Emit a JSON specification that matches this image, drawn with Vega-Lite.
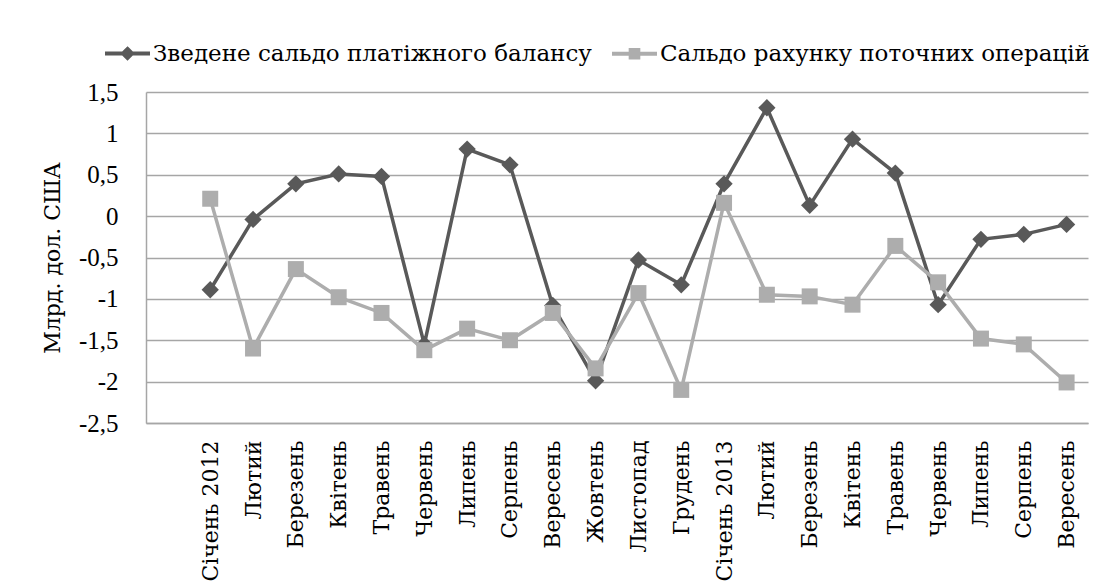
{
  "$schema": "https://vega.github.io/schema/vega-lite/v6.json",
  "width": 942,
  "height": 331,
  "autosize": "none",
  "padding": {"left": 146, "top": 92, "right": 11, "bottom": 165},
  "background": "white",
  "config": {
    "view": {"stroke": null},
    "axis": {"labelColor": "#000000", "titleColor": "#000000"}
  },
  "data": {
    "values": [
      {"period": "Січень 2012", "series": "Зведене сальдо платіжного балансу", "value": -0.89},
      {"period": "Лютий|2012", "series": "Зведене сальдо платіжного балансу", "value": -0.04},
      {"period": "Березень|2012", "series": "Зведене сальдо платіжного балансу", "value": 0.39},
      {"period": "Квітень|2012", "series": "Зведене сальдо платіжного балансу", "value": 0.51},
      {"period": "Травень|2012", "series": "Зведене сальдо платіжного балансу", "value": 0.48},
      {"period": "Червень|2012", "series": "Зведене сальдо платіжного балансу", "value": -1.55},
      {"period": "Липень|2012", "series": "Зведене сальдо платіжного балансу", "value": 0.81},
      {"period": "Серпень|2012", "series": "Зведене сальдо платіжного балансу", "value": 0.62},
      {"period": "Вересень|2012", "series": "Зведене сальдо платіжного балансу", "value": -1.08},
      {"period": "Жовтень|2012", "series": "Зведене сальдо платіжного балансу", "value": -1.99},
      {"period": "Листопад|2012", "series": "Зведене сальдо платіжного балансу", "value": -0.53},
      {"period": "Грудень|2012", "series": "Зведене сальдо платіжного балансу", "value": -0.83},
      {"period": "Січень 2013", "series": "Зведене сальдо платіжного балансу", "value": 0.39},
      {"period": "Лютий|2013", "series": "Зведене сальдо платіжного балансу", "value": 1.31},
      {"period": "Березень|2013", "series": "Зведене сальдо платіжного балансу", "value": 0.13},
      {"period": "Квітень|2013", "series": "Зведене сальдо платіжного балансу", "value": 0.93},
      {"period": "Травень|2013", "series": "Зведене сальдо платіжного балансу", "value": 0.52},
      {"period": "Червень|2013", "series": "Зведене сальдо платіжного балансу", "value": -1.07},
      {"period": "Липень|2013", "series": "Зведене сальдо платіжного балансу", "value": -0.28},
      {"period": "Серпень|2013", "series": "Зведене сальдо платіжного балансу", "value": -0.22},
      {"period": "Вересень|2013", "series": "Зведене сальдо платіжного балансу", "value": -0.10},
      {"period": "Січень 2012", "series": "Сальдо рахунку поточних операцій", "value": 0.21},
      {"period": "Лютий|2012", "series": "Сальдо рахунку поточних операцій", "value": -1.60},
      {"period": "Березень|2012", "series": "Сальдо рахунку поточних операцій", "value": -0.64},
      {"period": "Квітень|2012", "series": "Сальдо рахунку поточних операцій", "value": -0.98},
      {"period": "Травень|2012", "series": "Сальдо рахунку поточних операцій", "value": -1.17},
      {"period": "Червень|2012", "series": "Сальдо рахунку поточних операцій", "value": -1.62},
      {"period": "Липень|2012", "series": "Сальдо рахунку поточних операцій", "value": -1.36},
      {"period": "Серпень|2012", "series": "Сальдо рахунку поточних операцій", "value": -1.50},
      {"period": "Вересень|2012", "series": "Сальдо рахунку поточних операцій", "value": -1.17},
      {"period": "Жовтень|2012", "series": "Сальдо рахунку поточних операцій", "value": -1.84},
      {"period": "Листопад|2012", "series": "Сальдо рахунку поточних операцій", "value": -0.93},
      {"period": "Грудень|2012", "series": "Сальдо рахунку поточних операцій", "value": -2.10},
      {"period": "Січень 2013", "series": "Сальдо рахунку поточних операцій", "value": 0.16},
      {"period": "Лютий|2013", "series": "Сальдо рахунку поточних операцій", "value": -0.95},
      {"period": "Березень|2013", "series": "Сальдо рахунку поточних операцій", "value": -0.97},
      {"period": "Квітень|2013", "series": "Сальдо рахунку поточних операцій", "value": -1.07},
      {"period": "Травень|2013", "series": "Сальдо рахунку поточних операцій", "value": -0.36},
      {"period": "Червень|2013", "series": "Сальдо рахунку поточних операцій", "value": -0.80},
      {"period": "Липень|2013", "series": "Сальдо рахунку поточних операцій", "value": -1.48},
      {"period": "Серпень|2013", "series": "Сальдо рахунку поточних операцій", "value": -1.55},
      {"period": "Вересень|2013", "series": "Сальдо рахунку поточних операцій", "value": -2.01}
    ]
  },
  "encoding": {
    "x": {
      "field": "period",
      "type": "nominal",
      "sort": null,
      "scale": {
        "type": "point",
        "padding": 0.5,
        "domain": [" ", "Січень 2012", "Лютий|2012", "Березень|2012", "Квітень|2012", "Травень|2012", "Червень|2012", "Липень|2012", "Серпень|2012", "Вересень|2012", "Жовтень|2012", "Листопад|2012", "Грудень|2012", "Січень 2013", "Лютий|2013", "Березень|2013", "Квітень|2013", "Травень|2013", "Червень|2013", "Липень|2013", "Серпень|2013", "Вересень|2013"]
      },
      "axis": {
        "title": null,
        "labelFont": "DejaVu Serif",
        "labelAngle": -90,
        "labelAlign": "right",
        "labelBaseline": "middle",
        "labelFontSize": 22,
        "labelPadding": 17,
        "labelExpr": "split(datum.label, '|')[0]",
        "ticks": false,
        "domain": true,
        "domainColor": "#A6A6A6",
        "domainWidth": 1.5,
        "grid": false,
        "labelOverlap": false
      }
    },
    "y": {
      "field": "value",
      "type": "quantitative",
      "scale": {"domain": [-2.5, 1.5], "nice": false, "zero": false},
      "axis": {
        "title": "Млрд. дол. США",
        "titleFont": "DejaVu Serif",
        "labelFont": "Liberation Serif",
        "titleFontSize": 22,
        "titleFontWeight": "normal",
        "titlePadding": 14,
        "values": [-2.5, -2, -1.5, -1, -0.5, 0, 0.5, 1, 1.5],
        "labelExpr": "replace(toString(datum.value), '.', ',')",
        "labelFontSize": 25,
        "labelPadding": 28,
        "ticks": false,
        "domain": true,
        "domainColor": "#A6A6A6",
        "domainWidth": 1.5,
        "grid": true,
        "gridColor": "#A6A6A6",
        "gridWidth": 1.5
      }
    },
    "color": {
      "field": "series",
      "type": "nominal",
      "scale": {"domain": ["Зведене сальдо платіжного балансу", "Сальдо рахунку поточних операцій"], "range": ["#595959", "#ADADAD"]},
      "legend": {
        "title": null,
        "orient": "none",
        "legendX": -43,
        "legendY": -63,
        "direction": "horizontal",
        "padding": 0,
        "columnPadding": 12,
        "labelFont": "DejaVu Serif",
        "labelFontSize": 23,
        "labelColor": "#000000",
        "labelOffset": 1,
        "labelLimit": 0,
        "symbolSize": 2025,
        "encode": {
          "symbols": {
            "update": {
              "shape": {"signal": "indexof(domain('color'), datum.value) === 0 ? 'M-1,0H1M0,-0.2L0.2,0L0,0.2L-0.2,0Z' : 'M-1,0H1M-0.17,-0.17H0.17V0.17H-0.17Z'"},
              "fill": {"signal": "scale('color', datum.value)"},
              "stroke": {"signal": "scale('color', datum.value)"},
              "strokeWidth": {"value": 4},
              "opacity": {"value": 1}
            }
          }
        }
      }
    }
  },
  "layer": [
    {
      "transform": [{"filter": {"field": "series", "equal": "Зведене сальдо платіжного балансу"}}],
      "mark": {"type": "line", "strokeWidth": 3.5}
    },
    {
      "transform": [{"filter": {"field": "series", "equal": "Зведене сальдо платіжного балансу"}}],
      "mark": {"type": "point", "shape": "diamond", "filled": true, "size": 300, "opacity": 1}
    },
    {
      "transform": [{"filter": {"field": "series", "equal": "Сальдо рахунку поточних операцій"}}],
      "mark": {"type": "line", "strokeWidth": 3.5}
    },
    {
      "transform": [{"filter": {"field": "series", "equal": "Сальдо рахунку поточних операцій"}}],
      "mark": {"type": "point", "shape": "square", "filled": true, "size": 256, "opacity": 1}
    }
  ]
}
